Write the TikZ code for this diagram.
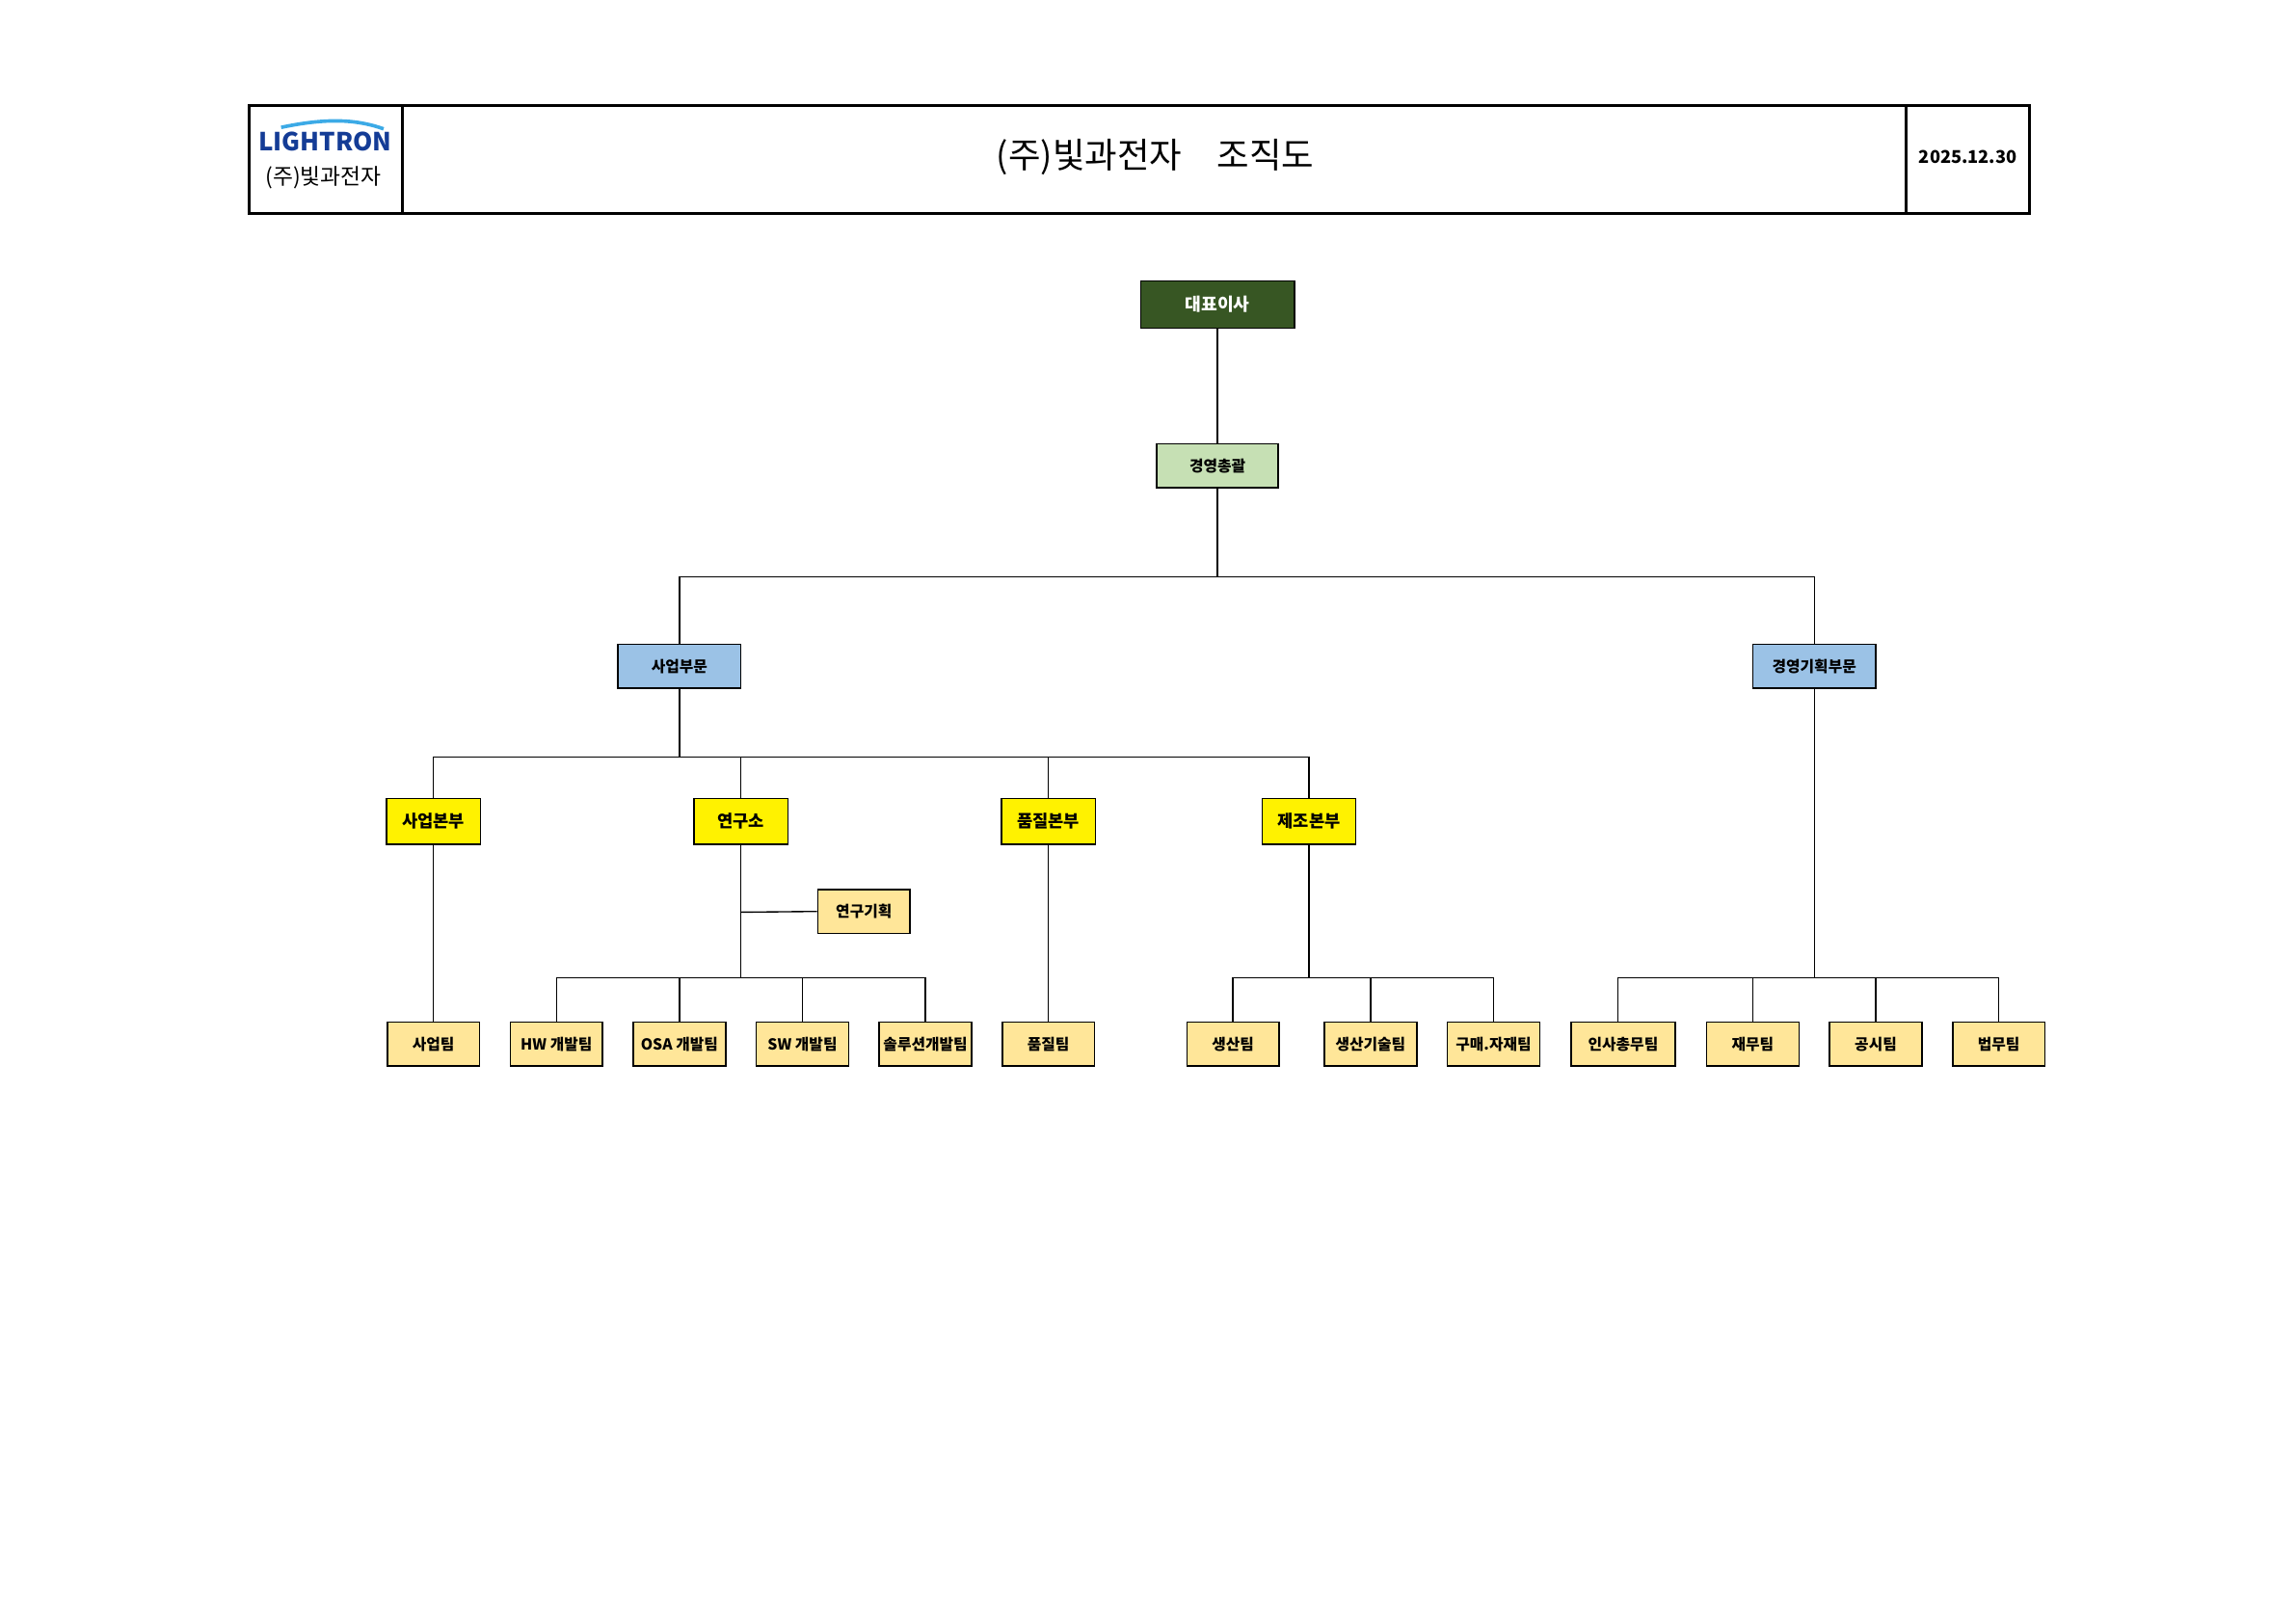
\documentclass[tikz,border=0pt]{standalone}
\usepackage{fontspec}
\setmainfont{Noto Sans CJK KR}
\begin{document}
\begin{tikzpicture}[x=0.5pt,y=-0.5pt,
 box/.style={draw=black,line width=0.5pt,minimum height=15pt,minimum width=32pt,inner sep=0pt,font=\fontsize{5.2pt}{6pt}\selectfont\bfseries},
 top/.style={box,fill={rgb,255:red,55;green,86;blue,35},text=white,minimum width=52.5pt,minimum height=16pt,font=\fontsize{6pt}{7pt}\selectfont\bfseries},
 mg/.style={box,fill={rgb,255:red,198;green,224;blue,180},minimum width=41.5pt},
 dv/.style={box,fill={rgb,255:red,155;green,194;blue,230},minimum width=42pt},
 hq/.style={box,fill=yellow,minimum height=15.5pt,font=\fontsize{5.8pt}{7pt}\selectfont\bfseries},
 tm/.style={box,fill={rgb,255:red,255;green,230;blue,153},minimum width=31.5pt},
 ln/.style={line width=0.45pt}]
\useasboundingbox (0,0) rectangle (1568,1109);
% header
\draw[line width=1pt] (170,72) rectangle (1386,146);
\draw[line width=1pt] (275,72) -- (275,146) (1302,72) -- (1302,146);
\node[font=\fontsize{8.5pt}{9pt}\selectfont\bfseries\itshape,text={rgb,255:red,20;green,60;blue,150}] (logo) at (222,97) {LIGHTRON};
\draw[line width=1.2pt,color={rgb,255:red,60;green,170;blue,230}] (192,87) .. controls (225,80) and (245,82) .. (262,88);
\node[font=\fontsize{7.5pt}{8pt}\selectfont] (lname) at (221,121) {(주)빛과전자};
\node[font=\fontsize{12pt}{13pt}\selectfont] (title) at (789,107) {(주)빛과전자\quad 조직도};
\node[font=\fontsize{6pt}{7pt}\selectfont\bfseries] (date) at (1344,107) {2025.12.30};
% nodes
\node[top] (ceo) at (831.5,208) {대표이사};
\node[mg] (gm) at (831.5,318) {경영총괄};
\node[dv] (biz) at (464,455) {사업부문};
\node[dv] (plan) at (1239,455) {경영기획부문};
\node[hq] (bh) at (296,561) {사업본부};
\node[hq] (lab) at (506,561) {연구소};
\node[hq] (qh) at (716,561) {품질본부};
\node[hq] (mh) at (894,561) {제조본부};
\node[tm] (lp) at (590,622.5) {연구기획};
\node[tm] (t1) at (296,713) {사업팀};
\node[tm] (t2) at (380,713) {HW 개발팀};
\node[tm] (t3) at (464,713) {OSA 개발팀};
\node[tm] (t4) at (548,713) {SW 개발팀};
\node[tm] (t5) at (632,713) {솔루션개발팀};
\node[tm] (t6) at (716,713) {품질팀};
\node[tm] (t7) at (842,713) {생산팀};
\node[tm] (t8) at (936,713) {생산기술팀};
\node[tm] (t9) at (1020,713) {구매.자재팀};
\node[tm,minimum width=35.5pt] (t10) at (1108.5,713) {인사총무팀};
\node[tm] (t11) at (1197,713) {재무팀};
\node[tm] (t12) at (1281,713) {공시팀};
\node[tm] (t13) at (1365,713) {법무팀};
% connectors
\draw[ln] (ceo) -- (gm);
\draw[ln] (gm.south) -- (831.5,394) coordinate (b1);
\draw[ln] (biz.north) |- (b1) -| (plan.north);
\draw[ln] (biz.south) -- (464,517) coordinate (b2);
\draw[ln] (bh.north) |- (b2) -| (mh.north);
\draw[ln] (lab.north) -- (506,517);
\draw[ln] (qh.north) -- (716,517);
\draw[ln] (bh) -- (t1);
\draw[ln] (qh) -- (t6);
\draw[ln] (lab.south) -- (506,668) coordinate (b3);
\draw[ln] (506,623) -- (lp.west);
\draw[ln] (t2.north) |- (b3) -| (t5.north);
\draw[ln] (t3.north) -- (464,668);
\draw[ln] (t4.north) -- (548,668);
\draw[ln] (mh.south) -- (894,668) coordinate (b4);
\draw[ln] (t7.north) |- (b4) -| (t9.north);
\draw[ln] (t8.north) -- (936,668);
\draw[ln] (plan.south) -- (1239,668) coordinate (b5);
\draw[ln] (1105,698) |- (b5) -| (t13.north);
\draw[ln] (t11.north) -- (1197,668);
\draw[ln] (t12.north) -- (1281,668);
\end{tikzpicture}
\end{document}
